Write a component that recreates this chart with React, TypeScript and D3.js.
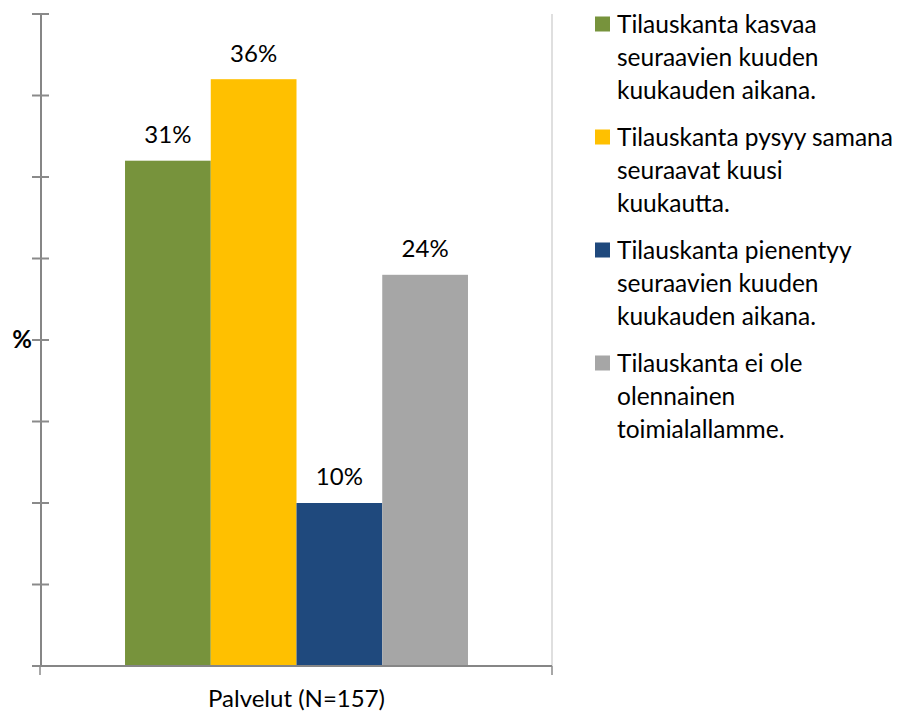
import React from "react";
import * as d3 from "d3";

const categories = ["Palvelut (N=157)"];
const seriesNames = [
  "Tilauskanta kasvaa seuraavien kuuden kuukauden aikana.",
  "Tilauskanta pysyy samana seuraavat kuusi kuukautta.",
  "Tilauskanta pienentyy seuraavien kuuden kuukauden aikana.",
  "Tilauskanta ei ole olennainen toimialallamme.",
];
const legendLines = [
  ["Tilauskanta kasvaa", "seuraavien kuuden", "kuukauden aikana."],
  ["Tilauskanta pysyy samana", "seuraavat kuusi", "kuukautta."],
  ["Tilauskanta pienentyy", "seuraavien kuuden", "kuukauden aikana."],
  ["Tilauskanta ei ole", "olennainen", "toimialallamme."],
];
const values = [31, 36, 10, 24];
const colors = ["#77933C", "#FFC000", "#1F497D", "#A6A6A6"];
const yTicks = [0, 5, 10, 15, 20, 25, 30, 35, 40];

const W = 899;
const H = 713;
const font = "Lato, Carlito, Calibri, sans-serif";

export default function App() {
  const left = 41;
  const right = 552;
  const top = 14;
  const bottom = 666;

  const y = d3.scaleLinear().domain([0, 40]).range([bottom, top]);
  const x0 = d3.scaleBand().domain(categories).range([left, right]).paddingInner(0).paddingOuter(0.245);
  const x1 = d3.scaleBand().domain(seriesNames).range([0, x0.bandwidth()]);

  return (
    <svg width={W} height={H} style={{ position: "absolute", left: 0, top: 0, background: "#fff" }} fontFamily={font}>
      {/* right border line */}
      <line x1={right} x2={right} y1={top} y2={bottom} stroke="#d4d4d4" strokeWidth={1.5} />

      {/* bars */}
      {categories.map((c) =>
        seriesNames.map((s, i) => {
          const bx = x0(c)! + x1(s)!;
          return (
            <g key={s}>
              <rect x={bx} y={y(values[i])} width={x1.bandwidth()} height={bottom - y(values[i])} fill={colors[i]} />
              <text x={bx + x1.bandwidth() / 2} y={y(values[i]) - 26} dy="0.35em" textAnchor="middle" fontSize={24} fill="#000">
                {values[i]}%
              </text>
            </g>
          );
        })
      )}

      {/* y axis */}
      <line x1={left} x2={left} y1={top} y2={bottom} stroke="#868686" strokeWidth={2} />
      {yTicks.map((t) => (
        <line key={t} x1={32} x2={t === 0 ? left : 49} y1={y(t)} y2={y(t)} stroke="#8a8a8a" strokeWidth={2} />
      ))}
      <text x={22} y={y(20)} dy="0.35em" textAnchor="middle" fontSize={24} fontWeight="bold" fill="#000">
        %
      </text>

      {/* x axis */}
      <line x1={left} x2={right} y1={bottom} y2={bottom} stroke="#868686" strokeWidth={2} />
      <line x1={left - 1} x2={left - 1} y1={bottom} y2={bottom + 9} stroke="#8a8a8a" strokeWidth={1.5} />
      <line x1={right} x2={right} y1={bottom} y2={bottom + 9} stroke="#8a8a8a" strokeWidth={1.5} />
      {categories.map((c) => (
        <text key={c} x={x0(c)! + x0.bandwidth() / 2} y={699} dy="0.35em" textAnchor="middle" fontSize={24} fill="#000">
          {c}
        </text>
      ))}

      {/* legend */}
      {legendLines.map((lines, i) => {
        const ly = 24 + i * 113;
        return (
          <g key={i}>
            <rect x={595} y={ly - 7.5} width={15} height={15} fill={colors[i]} />
            {lines.map((ln, j) => (
              <text key={j} x={617} y={ly + j * 33} dy="0.35em" fontSize={24.5} fill="#000">
                {ln}
              </text>
            ))}
          </g>
        );
      })}
    </svg>
  );
}
